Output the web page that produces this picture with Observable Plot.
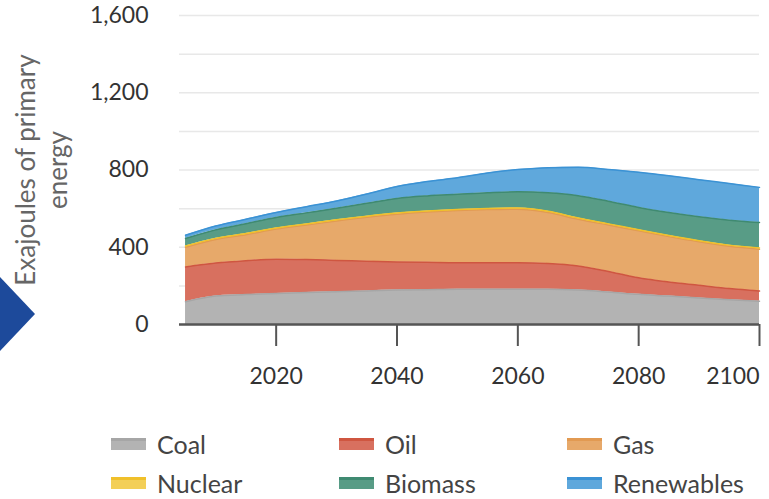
<!DOCTYPE html>
<html>
<head>
<meta charset="utf-8">
<script src="https://cdn.jsdelivr.net/npm/d3@7"></script>
<script src="https://cdn.jsdelivr.net/npm/@observablehq/plot@0.6"></script>
<style>
  html, body { margin: 0; padding: 0; background: #fff; }
  body { width: 769px; height: 499px; position: relative; overflow: hidden; font-family: Lato, "Open Sans", sans-serif; }
  #chart { position: absolute; left: 0; top: 0; }
  #chevron { position: absolute; left: 0; top: 277px; width: 35px; height: 74px; background: #1d4a9b;
             clip-path: polygon(0 0, 100% 50%, 0 100%); }
  #legend { position: absolute; left: 111px; top: 424px; display: grid;
            grid-template-columns: 228px 228px 200px; grid-auto-rows: 39px; }
  .item { display: flex; align-items: center; font-size: 25px; color: #444; }
  .sw { width: 35px; height: 9px; border-top: 3px solid; margin-right: 11px; }
</style>
</head>
<body>
<div id="chart"></div>
<div id="chevron"></div>
<div id="legend"></div>
<script>
const years      = [2005, 2010, 2015, 2020, 2025, 2030, 2035, 2040, 2045, 2050, 2055, 2060, 2065, 2070, 2075, 2080, 2085, 2090, 2095, 2100];
const coal       = [118, 148, 155, 161, 166, 170, 174, 178, 180, 182, 182, 182, 182, 178, 168, 156, 147, 137, 128, 121];
const oil        = [180, 170, 175, 177, 170, 162, 154, 146, 142, 138, 138, 138, 134, 125, 107, 86, 73, 66, 58, 52];
const gas        = [102, 122, 135, 156, 179, 204, 227, 247, 260, 270, 275, 277, 264, 242, 240, 243, 235, 225, 219, 217];
const nuclear    = [6, 6, 6, 6, 6, 6, 6, 6, 6, 6, 6, 6, 6, 6, 6, 6, 6, 6, 6, 6];
const biomass    = [39, 44, 51, 54, 57, 60, 67, 76, 78, 78, 81, 84, 96, 116, 117, 115, 119, 124, 129, 132];
const renewables = [17, 20, 23, 26, 32, 38, 48, 62, 74, 86, 103, 115, 130, 147, 165, 182, 190, 192, 190, 182];

const sources     = ["Coal", "Oil", "Gas", "Nuclear", "Biomass", "Renewables"];
const fillColors  = ["#b3b3b3", "#d8705f", "#e7a96a", "#f3cf58", "#589c86", "#5fa8dc"];
const lineColors  = ["#a6a6a6", "#cf5640", "#e29a52", "#f0c02a", "#3f8a71", "#3b92d4"];
const yTicks      = [0, 400, 800, 1200, 1600];
const gridTicks   = [0, 200, 400, 600, 800, 1000, 1200, 1400, 1600];
const xTicks      = [2020, 2040, 2060, 2080];
const xTickLast   = [2100];

const series = [coal, oil, gas, nuclear, biomass, renewables];
const data = [];
sources.forEach((s, i) => years.forEach((yr, j) => data.push({year: yr, source: s, value: series[i][j]})));

const curve = "monotone-x";
const chart = Plot.plot({
  width: 769,
  height: 400,
  marginTop: 15,
  marginBottom: 76,
  marginLeft: 179,
  marginRight: 10,
  style: {fontFamily: "Lato, 'Open Sans', sans-serif", background: "transparent"},
  x: {domain: [2004, 2100], axis: null, label: null},
  y: {domain: [0, 1600], axis: null, label: null},
  color: {domain: sources, range: fillColors},
  marks: [
    Plot.gridY(gridTicks, {stroke: "#e8e8e8", strokeOpacity: 1, strokeWidth: 1.5}),
    Plot.areaY(data, Plot.stackY({x: "year", y: "value", fill: "source", order: sources, curve})),
    Plot.lineY(data, Plot.stackY2({x: "year", y: "value", z: "source", stroke: d => lineColors[sources.indexOf(d.source)], order: sources, curve, strokeWidth: 1.5})),
    Plot.ruleY([0], {stroke: "#555", strokeWidth: 2.5}),
    Plot.axisX(xTicks, {label: null, tickSize: 22, tickPadding: 21, fontSize: 23, fill: "#333", stroke: "#555", strokeWidth: 2, tickFormat: d => String(d)}),
    Plot.axisX(xTickLast, {label: null, tickSize: 22, tickPadding: 21, fontSize: 23, fill: "#333", stroke: "#555", strokeWidth: 2, textAnchor: "end", tickFormat: d => String(d)}),
    Plot.axisY(yTicks, {label: null, tickSize: 0, tickPadding: 31, fontSize: 23, fill: "#333", tickFormat: d3.format(",")})
  ]
});
document.getElementById("chart").appendChild(chart);

// Y-axis title (two lines, rotated)
const svg = d3.select(chart);
const t = svg.append("text")
  .attr("transform", "translate(35,170) rotate(-90)")
  .attr("text-anchor", "middle")
  .attr("fill", "#666")
  .attr("font-size", 26)
  .attr("font-family", "Lato, 'Open Sans', sans-serif");
t.append("tspan").attr("x", 0).attr("dy", 0).text("Exajoules of primary");
t.append("tspan").attr("x", 0).attr("dy", 32).text("energy");

// Legend
const legend = document.getElementById("legend");
sources.forEach((s, i) => {
  const item = document.createElement("div");
  item.className = "item";
  const sw = document.createElement("span");
  sw.className = "sw";
  sw.style.background = fillColors[i];
  sw.style.borderTopColor = lineColors[i];
  item.appendChild(sw);
  item.appendChild(document.createTextNode(s));
  legend.appendChild(item);
});
</script>
</body>
</html>
